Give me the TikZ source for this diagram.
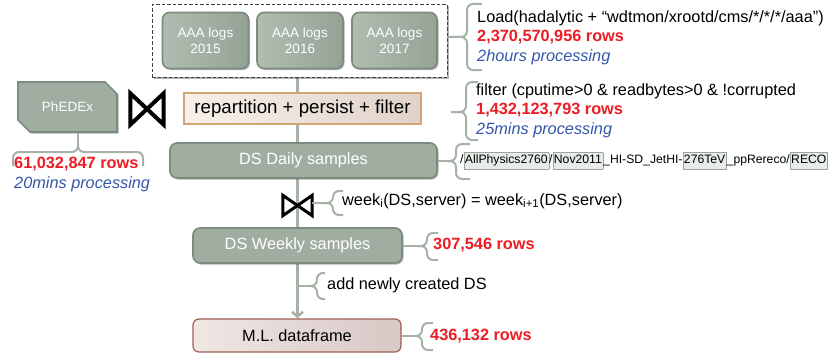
\documentclass[tikz,border=0pt]{standalone}
\usepackage{fontspec}
\setmainfont{Liberation Sans}
\usetikzlibrary{shapes.misc,arrows.meta,shadows,calc,backgrounds}
\definecolor{nodegray}{HTML}{A0AEA1}
\definecolor{nodegrayL}{HTML}{B0BDB1}
\definecolor{nodegrayD}{HTML}{95A296}
\definecolor{nodeedge}{HTML}{7D8A7E}
\definecolor{brc}{HTML}{A5B3A6}
\definecolor{rowred}{HTML}{EC1C24}
\definecolor{procblue}{HTML}{3456A8}
\definecolor{repfillA}{HTML}{F7F1EA}
\definecolor{repfillB}{HTML}{E0D2C9}
\definecolor{repedge}{HTML}{D3A574}
\definecolor{mlfillA}{HTML}{EFE7E4}
\definecolor{mlfillB}{HTML}{D8C8C6}
\definecolor{mledge}{HTML}{A25E55}
\definecolor{hlfill}{HTML}{E8ECE8}
\definecolor{hledge}{HTML}{9AA69B}
\newcommand\hlbox[1]{{\setlength\fboxsep{0.8pt}\setlength\fboxrule{0.6pt}\fcolorbox{hledge}{hlfill}{\strut #1}}}
\newcommand\Vbrace[7]{%
  \coordinate (#7) at (#1,#2);
  \draw[brace] (#4,#5) -- (#3,#5) -- (#3,#2) -- (#7);
  \draw[brace] (#7) -- (#3,#2) -- (#3,#6) -- (#4,#6);
}
\tikzset{
  shad/.style={drop shadow={shadow xshift=1.5pt,shadow yshift=-1.5pt,opacity=0.3,fill=black}},
  graynode/.style={rounded corners=7pt, draw=nodeedge, line width=1.6pt, fill=nodegray,
    text=white, font=\fontsize{16.3}{19}\selectfont, inner sep=0pt, shad},
  aaanode/.style={graynode, left color=nodegrayL, right color=nodegrayD,
    font=\fontsize{13.5}{16}\selectfont, align=center},
  phnode/.style={chamfered rectangle, chamfered rectangle corners={north east,south west},
    chamfered rectangle xsep=7pt, chamfered rectangle ysep=7pt,
    draw=nodeedge, line width=1.6pt, fill=nodegray, text=white,
    font=\fontsize{13.5}{16}\selectfont, inner sep=0pt, shad},
  repnode/.style={draw=repedge, line width=1.2pt, left color=repfillA, right color=repfillB,
    font=\fontsize{18.7}{22}\selectfont, inner sep=0pt},
  mlnode/.style={rounded corners=6pt, draw=mledge, line width=1.2pt, left color=mlfillA,
    right color=mlfillB, font=\fontsize{16.3}{19}\selectfont, inner sep=0pt},
  dashbox/.style={draw=black!75, line width=1pt, dash pattern=on 3.5pt off 2pt, fill=white, shad},
  annot/.style={anchor=west, inner sep=0pt, font=\fontsize{16.3}{19}\selectfont},
  rowtext/.style={annot, text=rowred, font=\bfseries\fontsize{16.3}{19}\selectfont},
  proctext/.style={annot, text=procblue, font=\itshape\fontsize{16.3}{19}\selectfont},
  pathtext/.style={anchor=west, inner sep=0pt, font=\fontsize{12.2}{14.6}\selectfont},
  brace/.style={draw=brc, line width=2pt, rounded corners=6pt},
  mainline/.style={draw=brc, line width=2.5pt},
  bowholder/.style={inner sep=0pt},
  bowtie/.style={draw=black, fill=white, line join=miter},
}
\begin{document}
\begin{tikzpicture}[x=1pt,y=-1pt]
\useasboundingbox (0,0) rectangle (837,353);

% dashed group
\node[dashbox, minimum width=295pt, minimum height=72pt] (dash) at (299.5,41) {};
\node[aaanode, minimum width=86pt, minimum height=56pt] (a15) at (205.5,40.5) {AAA logs\\2015};
\node[aaanode, minimum width=86pt, minimum height=56pt] (a16) at (300,40.5) {AAA logs\\2016};
\node[aaanode, minimum width=85pt, minimum height=56pt] (a17) at (394.5,40.5) {AAA logs\\2017};

% main nodes
\node[repnode, minimum width=237pt, minimum height=31pt] (rep) at (302.5,108.5) {repartition + persist + filter};
\node[graynode, minimum width=267pt, minimum height=35pt] (daily) at (303.5,160.5) {DS Daily samples};
\node[graynode, minimum width=209pt, minimum height=35pt] (weekly) at (297.5,245.5) {DS Weekly samples};
\node[mlnode, minimum width=208pt, minimum height=33pt] (ml) at (297,335.5) {M.L. dataframe};
\node[phnode, minimum width=99pt, minimum height=50pt] (ph) at (67.5,107) {PhEDEx};

% bowties
\node[bowholder, minimum width=33pt, minimum height=31pt] (bt1) at (147,109) {};
\draw[bowtie, line width=4pt] (bt1.north west) -- (bt1.south east) -- (bt1.north east) -- (bt1.south west) -- cycle;
\node[bowholder, minimum width=29pt, minimum height=20pt] (bt2) at (297.5,205.5) {};
\draw[bowtie, line width=3pt] (bt2.north west) -- (bt2.south east) -- (bt2.north east) -- (bt2.south west) -- cycle;

% main vertical line
\begin{pgfonlayer}{background}
\draw[mainline, -{Straight Barb[length=5pt,width=11pt]}] (dash.south -| bt2) -- (ml.north -| bt2);
\end{pgfonlayer}

% braces
\Vbrace{452}{37}{467}{482}{4}{70}{loadtip}
\draw[brace] (dash.east |- loadtip) -- (loadtip);
\Vbrace{451}{112}{466}{478}{82}{140}{filtertip}
\Vbrace{446}{161}{456}{470}{144}{179}{dailytip}
\draw[brace] (daily.east |- dailytip) -- (dailytip);
\Vbrace{322}{203}{333}{343}{191}{215}{weektip}
\draw[brace] (bt2.east |- weektip) -- (weektip);
\Vbrace{418}{246}{427}{438}{233}{260}{weeklytip}
\draw[brace] (weekly.east |- weeklytip) -- (weeklytip);
\Vbrace{310}{286}{317}{325}{273}{299}{addtip}
\draw[brace] (bt2 |- addtip) -- (addtip);
\Vbrace{415}{336}{422}{433}{323}{350}{mltip}
\draw[brace] (ml.east |- mltip) -- (mltip);

% PhEDEx brace (opening downwards)
\coordinate (phtip) at (78,144);
\draw[brace] (phtip |- ph.south) -- (phtip);
\draw[brace] (phtip) -- (78,152) -- (13,152) -- (13,166);
\draw[brace] (phtip) -- (78,152) -- (143,152) -- (143,166);

% annotations
\node[annot] (loadtxt) at (477,18) {Load(hadalytic + “wdtmon/xrootd/cms/*/*/*/aaa”)};
\node[rowtext] (loadrows) at (477,37) {2,370,570,956 rows};
\node[proctext] (loadproc) at (477,57) {2hours processing};

\node[annot] (filtxt) at (476,91) {filter (cputime>0 \& readbytes>0 \& !corrupted};
\node[rowtext] (filrows) at (476,110) {1,432,123,793 rows};
\node[proctext] (filproc) at (476,130) {25mins processing};

\node[pathtext] (dspath) at (460,161) {/\hlbox{AllPhysics2760}/\hlbox{Nov2011}\_HI-SD\_JetHI-\hlbox{276TeV}\_ppRereco/\hlbox{RECO}};

\node[rowtext] (phrows) at (14,164) {61,032,847 rows};
\node[proctext] (phproc) at (14,184) {20mins processing};

\node[annot] (weektxt) at (342,201) {week\textsubscript{i}(DS,server) = week\textsubscript{i+1}(DS,server)};
\node[rowtext] (weeklyrows) at (433,245) {307,546 rows};
\node[annot] (addtxt) at (327,285) {add newly created DS};
\node[rowtext] (mlrows) at (430,336) {436,132 rows};
\end{tikzpicture}
\end{document}
